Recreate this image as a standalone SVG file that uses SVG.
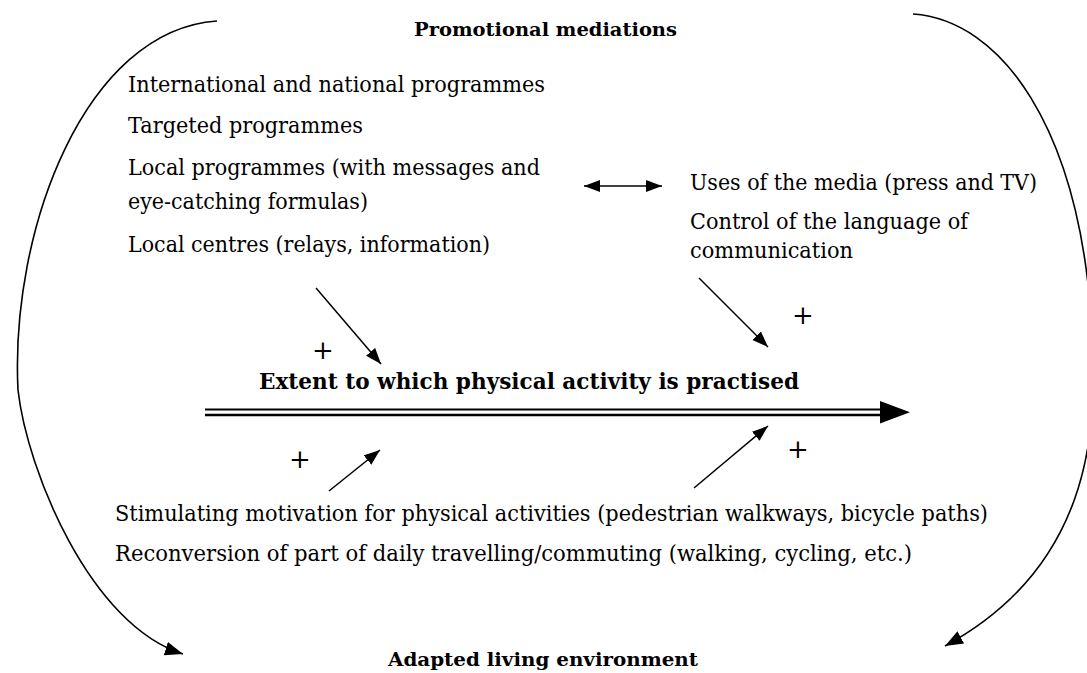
<svg xmlns="http://www.w3.org/2000/svg" width="1087" height="673" viewBox="0 0 1087 673">
<style>
text{font-family:"DejaVu Serif","Liberation Serif",serif;fill:#000}
.t{font-size:22px}
.b{font-weight:bold;font-size:19px}
.bt{font-weight:bold;font-size:22px}
.p{font-size:26px;text-anchor:middle}
.c{fill:none;stroke:#000;stroke-width:1.6}
.a{fill:none;stroke:#000;stroke-width:1.5}
</style>
<defs>
<marker id="big" markerUnits="userSpaceOnUse" markerWidth="20" markerHeight="16" refX="18" refY="7" orient="auto">
<path d="M0,0 L18,7 L0,14 Z" fill="#000"/>
</marker>
<marker id="sm" markerUnits="userSpaceOnUse" markerWidth="17" markerHeight="14" refX="16" refY="6" orient="auto">
<path d="M0,0 L16,6 L0,12 Z" fill="#000"/>
</marker>
<marker id="smS" markerUnits="userSpaceOnUse" markerWidth="17" markerHeight="14" refX="0" refY="6" orient="auto">
<path d="M16,0 L0,6 L16,12 Z" fill="#000"/>
</marker>
</defs>

<g id="promotional">
<text class="b" x="414" y="36" textLength="263" lengthAdjust="spacingAndGlyphs">Promotional mediations</text>
<text class="t" x="128" y="92" textLength="417" lengthAdjust="spacingAndGlyphs">International and national programmes</text>
<text class="t" x="128" y="133" textLength="235" lengthAdjust="spacingAndGlyphs">Targeted programmes</text>
<text class="t" x="128" y="175" textLength="412" lengthAdjust="spacingAndGlyphs">Local programmes (with messages and</text>
<text class="t" x="128" y="209" textLength="240" lengthAdjust="spacingAndGlyphs">eye-catching formulas)</text>
<text class="t" x="128" y="252" textLength="362" lengthAdjust="spacingAndGlyphs">Local centres (relays, information)</text>
</g>

<g id="media">
<text class="t" x="690" y="190" textLength="347" lengthAdjust="spacingAndGlyphs">Uses of the media (press and TV)</text>
<text class="t" x="690" y="229" textLength="278" lengthAdjust="spacingAndGlyphs">Control of the language of</text>
<text class="t" x="690" y="258" textLength="163" lengthAdjust="spacingAndGlyphs">communication</text>
</g>

<g id="practice">
<text class="bt" x="259" y="389" textLength="540" lengthAdjust="spacingAndGlyphs">Extent to which physical activity is practised</text>
</g>

<g id="environment">
<text class="t" x="115" y="521" textLength="873" lengthAdjust="spacingAndGlyphs">Stimulating motivation for physical activities (pedestrian walkways, bicycle paths)</text>
<text class="t" x="115" y="561" textLength="797" lengthAdjust="spacingAndGlyphs">Reconversion of part of daily travelling/commuting (walking, cycling, etc.)</text>
<text class="b" x="388" y="666" textLength="310" lengthAdjust="spacingAndGlyphs">Adapted living environment</text>
</g>

<g id="connectors">
<path class="c" d="M217,21 C85,30 10,230 18,390 C27,470 90,625 183,654" marker-end="url(#big)"/>
<path class="c" d="M913,14 C1000,20 1080,125 1092,330 C1100,440 1085,570 945,646" marker-end="url(#big)"/>
<line x1="205" y1="409.5" x2="884" y2="409.5" stroke="#000" stroke-width="2.2"/>
<line x1="205" y1="415" x2="884" y2="415" stroke="#000" stroke-width="2.6"/>
<path d="M880,401 L910,412.3 L880,423.6 Z" fill="#000"/>
<line class="a" x1="584" y1="186" x2="662" y2="186" marker-start="url(#smS)" marker-end="url(#sm)"/>
<line class="a" x1="316" y1="288" x2="381" y2="364" marker-end="url(#sm)"/>
<line class="a" x1="699" y1="278" x2="768" y2="347" marker-end="url(#sm)"/>
<line class="a" x1="329" y1="491" x2="380" y2="450" marker-end="url(#sm)"/>
<line class="a" x1="694" y1="488" x2="768" y2="426" marker-end="url(#sm)"/>
<text class="p" x="323" y="359">+</text>
<text class="p" x="803" y="324">+</text>
<text class="p" x="300" y="468">+</text>
<text class="p" x="798" y="458">+</text>
</g>
</svg>
